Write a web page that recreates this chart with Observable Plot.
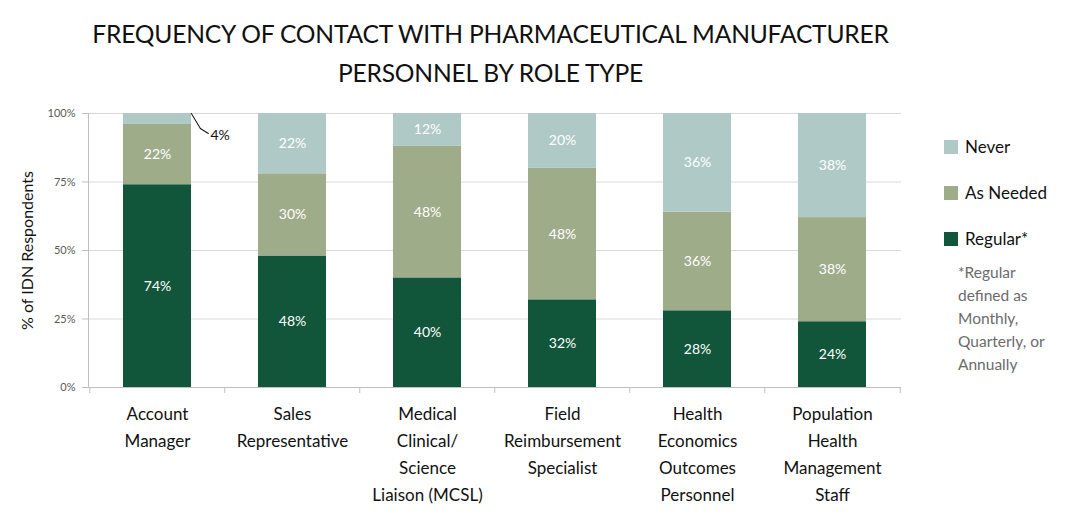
<!DOCTYPE html>
<html>
<head>
<meta charset="utf-8">
<script src="https://cdn.jsdelivr.net/npm/d3@7"></script>
<script src="https://cdn.jsdelivr.net/npm/@observablehq/plot@0.6"></script>
<style>
  html, body { margin: 0; padding: 0; background: #fff; }
  #wrap { position: relative; width: 1078px; height: 531px; font-family: Lato, "Open Sans", sans-serif; }
  #title { position: absolute; left: 0; top: 14px; width: 981px; text-align: center; font-size: 24.6px; line-height: 39px; color: #111; letter-spacing: -0.2px; }
  #legend { position: absolute; left: 944px; top: 135px; font-size: 17px; color: #111; }
  .li { display: flex; align-items: center; height: 23px; margin-bottom: 23px; }
  .sw { width: 14px; height: 14px; margin-right: 7px; }
  #note { position: absolute; left: 958px; top: 261px; font-size: 15.5px; line-height: 23px; color: #6b6b6b; }
</style>
</head>
<body>
<div id="wrap">
  <div id="title"></div>
  <div id="chart"></div>
  <div id="legend"></div>
  <div id="note"></div>
</div>
<script>
const titleLines = ["FREQUENCY OF CONTACT WITH  PHARMACEUTICAL MANUFACTURER", "PERSONNEL BY ROLE TYPE"];
const roles = ["Account Manager", "Sales Representative", "Medical Clinical/ Science Liaison (MCSL)", "Field Reimbursement Specialist", "Health Economics Outcomes Personnel", "Population Health Management Staff"];
const roleLabels = ["Account\nManager", "Sales\nRepresentative", "Medical\nClinical/\nScience\nLiaison (MCSL)", "Field\nReimbursement\nSpecialist", "Health\nEconomics\nOutcomes\nPersonnel", "Population\nHealth\nManagement\nStaff"];
const seriesNames = ["Regular*", "As Needed", "Never"];
const regular = [74, 48, 40, 32, 28, 24];
const asNeeded = [22, 30, 48, 48, 36, 38];
const never = [4, 22, 12, 20, 36, 38];
const colors = ["#11553a", "#9fac8a", "#afcac6"];
const yTicks = [0, 0.25, 0.5, 0.75, 1];
const legendOrder = ["Never", "As Needed", "Regular*"];
const noteLines = ["*Regular", "defined as", "Monthly,", "Quarterly, or", "Annually"];

document.getElementById("title").innerHTML = titleLines.join("<br>");

const seriesValues = [regular, asNeeded, never];
const data = [];
seriesNames.forEach((s, si) => roles.forEach((r, ri) => data.push({role: r, series: s, value: seriesValues[si][ri] / 100})));

const labelOf = Object.fromEntries(roles.map((r, i) => [r, roleLabels[i]]));
const inside = data.filter(d => d.value >= 0.08);
const outside = data.filter(d => d.value < 0.08);

const plotW = 1078 - 88 - 177;
const step = plotW / roles.length;
const halfBar = step * 0.25;
const lineShape = {draw(context, l) { context.moveTo(0, 0); context.lineTo(0, -l); }};

const plot = Plot.plot({
  width: 1078,
  height: 531,
  marginLeft: 88,
  marginRight: 177,
  marginTop: 113,
  marginBottom: 144,
  style: {fontFamily: "Lato, 'Open Sans', sans-serif", background: "white"},
  x: {domain: roles, paddingInner: 0.5, paddingOuter: 0.25, label: null},
  y: {domain: [0, 1], label: null},
  color: {domain: seriesNames, range: colors},
  marks: [
    Plot.gridY(yTicks.slice(1), {stroke: "#d9d9d9", strokeOpacity: 1}),
    Plot.barY(data, Plot.stackY({x: "role", y: "value", fill: "series"})),
    Plot.text(inside, Plot.stackY({x: "role", y: "value", z: "series", text: d => Math.round(d.value * 100) + "%", fill: "white", fontSize: 14})),
    Plot.text(outside, {x: "role", y: 1, text: d => Math.round(d.value * 100) + "%", dx: halfBar + 19, dy: 22, textAnchor: "start", fill: "#111", fontSize: 14}),
    Plot.vector(outside, {x: "role", y: 1, dx: halfBar, length: 17.5, rotate: 149, anchor: "start", shape: lineShape, stroke: "#111", strokeWidth: 1}),
    Plot.vector(outside, {x: "role", y: 1, dx: halfBar + 9, dy: 15, length: 9.4, rotate: 122, anchor: "start", shape: lineShape, stroke: "#111", strokeWidth: 1}),
    Plot.ruleY([0], {stroke: "#bfbfbf"}),
    Plot.frame({anchor: "left", stroke: "#bfbfbf"}),
    Plot.axisY({ticks: yTicks, tickFormat: d => Math.round(d * 100) + "%", tickSize: 6, tickPadding: 7, fontSize: 11, color: "#595959", stroke: "#bfbfbf"}),
    Plot.ruleX(roles, {x: d => d, y1: 0, y2: -0.022, dx: -step / 2, stroke: "#bfbfbf"}),
    Plot.ruleX(roles.slice(-1), {x: d => d, y1: 0, y2: -0.022, dx: step / 2, stroke: "#bfbfbf"}),
    Plot.axisX({tickSize: 0, tickPadding: 13, tickFormat: d => labelOf[d], fontSize: 17, lineHeight: 1.6, fill: "#111"}),
    Plot.text(["% of IDN Respondents"], {frameAnchor: "left", rotate: -90, dx: -61, textAnchor: "middle", fontSize: 16, fill: "#111"})
  ]
});
document.getElementById("chart").appendChild(plot);

const legend = document.getElementById("legend");
legendOrder.forEach(name => {
  const c = colors[seriesNames.indexOf(name)];
  const div = document.createElement("div");
  div.className = "li";
  div.innerHTML = `<span class="sw" style="background:${c}"></span><span>${name}</span>`;
  legend.appendChild(div);
});
document.getElementById("note").innerHTML = noteLines.join("<br>");
</script>
</body>
</html>
